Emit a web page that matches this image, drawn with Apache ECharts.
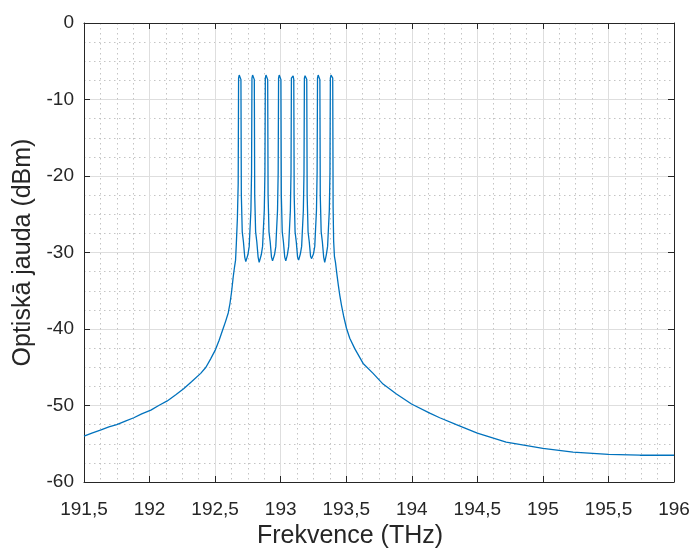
<!DOCTYPE html>
<html>
<head>
<meta charset="utf-8">
<script src="https://cdn.jsdelivr.net/npm/echarts@6/dist/echarts.min.js"></script>
<style>
html,body{margin:0;padding:0;background:#fff;}
#chart{width:689px;height:548px;}
</style>
</head>
<body>
<div id="chart"></div>
<script>
// Frequency (THz)
const freq = [
  191.50,191.56,191.63,191.69,191.75,191.82,191.88,191.94,192.01,192.07,
  192.135,192.20,192.26,192.32,192.39,192.43,192.466,192.50,192.53,192.56,
  192.58,192.60,192.613,192.626,192.638,192.648,192.656,
  192.662,192.670,192.676,192.679,192.684,192.692,192.697,192.700,192.707,192.716,192.726,192.734,
  192.740,192.750,192.760,192.766,192.773,192.778,192.781,192.786,192.794,192.799,192.802,192.809,192.818,192.828,192.836,
  192.842,192.852,192.862,192.868,192.875,192.880,192.883,192.888,192.896,192.901,192.904,192.911,192.920,192.930,192.938,
  192.943,192.953,192.963,192.969,192.976,192.981,192.984,192.989,192.997,193.002,193.005,193.012,193.021,193.031,193.039,
  193.041,193.051,193.061,193.067,193.074,193.079,193.082,193.087,193.095,193.100,193.103,193.110,193.119,193.129,193.137,
  193.140,193.150,193.160,193.166,193.173,193.178,193.181,193.186,193.194,193.199,193.202,193.209,193.218,193.228,193.236,
  193.240,193.250,193.260,193.266,193.273,193.278,193.281,193.286,193.294,193.299,193.302,193.309,193.318,193.328,193.336,
  193.338,193.348,193.358,193.364,193.371,193.376,193.379,193.384,193.392,193.397,193.400,193.404,193.410,193.418,
  193.430,193.440,193.451,193.464,193.480,193.502,193.527,193.566,193.629,193.705,193.781,193.883,193.998,
  194.137,194.213,194.34,194.50,194.72,195.00,195.23,195.50,195.74,196.00
];
// Optical power (dBm)
const power = [
  -54.0,-53.6,-53.2,-52.8,-52.5,-52.0,-51.6,-51.1,-50.6,-50.0,
  -49.4,-48.6,-47.8,-46.9,-45.8,-45.0,-43.9,-42.8,-41.5,-40.0,
  -39.0,-37.9,-36.7,-35.1,-33.2,-31.9,-31.0,
  -28.8,-25.5,-21.0,-7.2,-6.8,-6.9,-7.4,-22.5,-27.3,-28.6,-30.6,-31.2,
  -31.3,-30.3,-29.2,-27.0,-24.5,-19.5,-7.2,-6.8,-6.8,-7.4,-22.5,-27.3,-28.6,-30.6,-31.3,
  -31.2,-30.3,-29.2,-27.0,-24.5,-19.5,-7.2,-6.8,-6.8,-7.4,-22.5,-27.3,-28.6,-30.6,-31.1,
  -31.0,-30.3,-29.2,-27.0,-24.5,-19.5,-7.2,-6.8,-6.8,-7.4,-22.5,-27.3,-28.6,-30.6,-31.1,
  -31.0,-30.3,-29.2,-27.0,-24.5,-19.5,-7.2,-7.0,-6.9,-7.4,-22.5,-27.3,-28.6,-30.6,-31.0,
  -30.8,-30.2,-29.2,-27.0,-24.5,-19.5,-7.2,-6.9,-6.9,-7.4,-22.5,-27.3,-28.6,-30.5,-30.8,
  -30.7,-30.2,-29.2,-27.0,-24.5,-19.5,-7.2,-6.8,-6.8,-7.4,-22.5,-27.3,-28.6,-30.6,-31.3,
  -31.3,-30.3,-29.2,-27.0,-24.5,-19.5,-7.2,-6.8,-6.8,-7.2,-24.0,-28.5,-30.5,-31.3,
  -33.0,-34.3,-35.6,-36.9,-38.3,-39.9,-41.2,-42.6,-44.5,-45.8,-47.2,-48.5,-49.8,
  -51.0,-51.6,-52.5,-53.6,-54.8,-55.6,-56.1,-56.4,-56.5,-56.5
];
const xTicks = {min: 191.5, max: 196, step: 0.5};
const yTicks = {min: -60, max: 0, step: 10};
const xTitle = 'Frekvence (THz)';
const yTitle = 'Optiskā jauda (dBm)';

const font = "'Liberation Sans', Arial, Helvetica, sans-serif";
const ink = '#262626';
const seriesData = freq.map((f, i) => [f, power[i]]);
const fmt = v => (Math.round(v * 10) / 10).toString().replace('.', ',');

const chart = echarts.init(document.getElementById('chart'));
const common = {
  axisLine: {show: true, onZero: false, lineStyle: {color: ink, width: 1}},
  axisTick: {show: true, inside: true, length: 6, lineStyle: {color: ink}},
  minorTick: {show: false, splitNumber: 4},
};
chart.setOption({
  animation: false,
  backgroundColor: '#ffffff',
  grid: {left: 84, right: 15, top: 23, bottom: 66, containLabel: false, outerBoundsMode: 'none'},
  xAxis: [
    Object.assign({}, common, {
      type: 'value', min: xTicks.min, max: xTicks.max, interval: xTicks.step,
      position: 'bottom',
      name: xTitle, nameLocation: 'middle', nameGap: 42,
      nameTextStyle: {fontFamily: font, fontSize: 25, color: ink, padding: [0, 58, 0, 0]},
      axisLabel: {fontFamily: font, fontSize: 19, color: ink, margin: 18, formatter: fmt},
      splitLine: {show: true, lineStyle: {color: '#dedede', width: 1}},
      minorSplitLine: {show: true, lineStyle: {color: '#c4c4c4', width: 1, type: [1.5, 3.5]}}
    }),
    Object.assign({}, common, {
      type: 'value', min: xTicks.min, max: xTicks.max, interval: xTicks.step,
      position: 'top', axisLabel: {show: false}, splitLine: {show: false}
    })
  ],
  yAxis: [
    Object.assign({}, common, {
      type: 'value', min: yTicks.min, max: yTicks.max, interval: yTicks.step,
      position: 'left',
      name: yTitle, nameLocation: 'middle', nameGap: 47, nameRotate: 90,
      nameTextStyle: {fontFamily: font, fontSize: 25, color: ink},
      axisLabel: {fontFamily: font, fontSize: 19, color: ink, margin: 10, formatter: fmt},
      splitLine: {show: true, lineStyle: {color: '#dedede', width: 1}},
      minorSplitLine: {show: true, lineStyle: {color: '#c4c4c4', width: 1, type: [1.5, 3.5]}}
    }),
    Object.assign({}, common, {
      type: 'value', min: yTicks.min, max: yTicks.max, interval: yTicks.step,
      position: 'right', axisLabel: {show: false}, splitLine: {show: false}
    })
  ],
  series: [{
    type: 'line',
    data: seriesData,
    showSymbol: false,
    symbol: 'none',
    lineStyle: {color: '#0072BD', width: 1.3},
    xAxisIndex: 0, yAxisIndex: 0
  }]
});
</script>
</body>
</html>
